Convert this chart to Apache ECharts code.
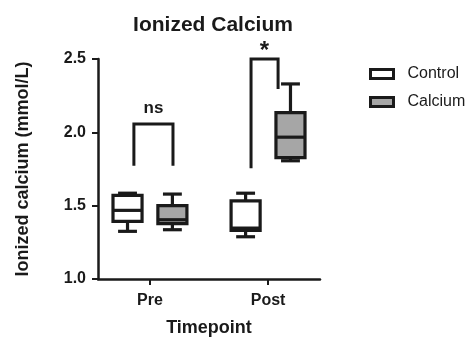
<!DOCTYPE html>
<html>
<head>
<meta charset="utf-8">
<script src="https://cdn.jsdelivr.net/npm/echarts@6/dist/echarts.min.js"></script>
<style>
  html, body { margin: 0; padding: 0; background: #fff; }
  #chart { width: 470px; height: 337px; }
</style>
</head>
<body>
<div id="chart"></div>
<script>
// timepoints on a value axis (Pre = 0, Post = 1)
const timepoints = ['Pre', 'Post']
const groupOffset = { Control: -0.19, Calcium: 0.19 }

// [min, q1, median, q3, max]
const controlBoxes = [
  [1.325, 1.393, 1.468, 1.570, 1.585],
  [1.288, 1.331, 1.347, 1.533, 1.585],
]
const calciumBoxes = [
  [1.336, 1.377, 1.404, 1.500, 1.579],
  [1.806, 1.828, 1.967, 2.135, 2.330],
]

// significance brackets: [xLeft, xRight, yLeftEnd, yRightEnd, yTop, label, labelX, labelY]
const brackets = [
  [-0.136, 0.195, 1.772, 1.772, 2.057, 'ns', 0.03, 2.165],
  [0.856, 1.085, 1.755, 2.296, 2.5, '*', 0.97, 2.555],
]

const FONT = 'Liberation Sans, Arial, sans-serif'
const INK = '#1a1a1a'

const boxRenderer = (fill, offset, boxes) => (params, api) => {
  const i = params.dataIndex
  const [mn, q1, md, q3, mx] = boxes[i]
  const x = i + offset
  const halfW = api.size([0.246, 0])[0] / 2
  const capW = halfW * 0.65
  const pMin = api.coord([x, mn])
  const pQ1 = api.coord([x, q1])
  const pMd = api.coord([x, md])
  const pQ3 = api.coord([x, q3])
  const pMax = api.coord([x, mx])
  const cx = pMd[0]
  const line = (x1, y1, x2, y2) => ({
    type: 'line',
    shape: { x1, y1, x2, y2 },
    style: { stroke: INK, lineWidth: 3.2 },
  })
  return {
    type: 'group',
    children: [
      line(cx, pMax[1], cx, pQ3[1]),
      line(cx, pQ1[1], cx, pMin[1]),
      line(cx - capW, pMax[1], cx + capW, pMax[1]),
      line(cx - capW, pMin[1], cx + capW, pMin[1]),
      {
        type: 'rect',
        shape: { x: cx - halfW, y: pQ3[1], width: halfW * 2, height: pQ1[1] - pQ3[1] },
        style: { fill, stroke: INK, lineWidth: 3.2 },
      },
      line(cx - halfW, pMd[1], cx + halfW, pMd[1]),
    ],
  }
}

const bracketRenderer = (params, api) => {
  const [xl, xr, yl, yr, yt, label, lx, ly] = brackets[params.dataIndex]
  const a = api.coord([xl, yl])
  const b = api.coord([xl, yt])
  const c = api.coord([xr, yt])
  const d = api.coord([xr, yr])
  const t = api.coord([lx, ly])
  return {
    type: 'group',
    children: [
      {
        type: 'polyline',
        shape: { points: [a, b, c, d] },
        style: { fill: 'none', stroke: INK, lineWidth: 3 },
      },
      {
        type: 'text',
        x: t[0],
        y: t[1],
        style: {
          text: label,
          fill: INK,
          font: label === '*' ? 'bold 24px ' + FONT : 'bold 17px ' + FONT,
          align: 'center',
          verticalAlign: 'middle',
        },
      },
    ],
  }
}

const chart = echarts.init(document.getElementById('chart'))

chart.setOption({
  animation: false,
  backgroundColor: '#fff',
  title: {
    text: 'Ionized Calcium',
    left: 208,
    top: 10,
    textAlign: 'center',
    textStyle: { fontFamily: FONT, fontWeight: 'bold', fontSize: 21, color: INK },
  },
  legend: {
    orient: 'vertical',
    left: 369,
    top: 66,
    padding: 0,
    itemWidth: 23,
    itemHeight: 9,
    itemGap: 12,
    icon: 'rect',
    textStyle: { fontFamily: FONT, fontSize: 16, color: INK, padding: [0, 0, 0, 9] },
    data: [
      { name: 'Control', itemStyle: { color: '#fff', borderColor: INK, borderWidth: 3 } },
      { name: 'Calcium', itemStyle: { color: '#a6a6a6', borderColor: INK, borderWidth: 3 } },
    ],
  },
  grid: { left: 98, right: 150, top: 59, bottom: 58, outerBoundsMode: 'none' },
  xAxis: {
    type: 'value',
    min: -0.44,
    max: 1.44,
    name: 'Timepoint',
    nameLocation: 'middle',
    nameGap: 40,
    nameTextStyle: { fontFamily: FONT, fontWeight: 'bold', fontSize: 18, color: INK },
    splitLine: { show: false },
    axisLine: { onZero: false, lineStyle: { color: INK, width: 2.5 } },
    axisTick: { customValues: [0, 1], length: 6, lineStyle: { color: INK, width: 2 } },
    axisLabel: {
      customValues: [0, 1],
      formatter: v => timepoints[Math.round(v)],
      fontFamily: FONT,
      fontWeight: 'bold',
      fontSize: 16,
      color: INK,
      margin: 14,
    },
  },
  yAxis: {
    type: 'value',
    min: 1.0,
    max: 2.5,
    interval: 0.5,
    name: 'Ionized calcium (mmol/L)',
    nameLocation: 'middle',
    nameGap: 66,
    nameTextStyle: { fontFamily: FONT, fontWeight: 'bold', fontSize: 18, color: INK },
    splitLine: { show: false },
    axisLine: { show: true, onZero: false, lineStyle: { color: INK, width: 2.5 } },
    axisTick: { show: true, length: 6, lineStyle: { color: INK, width: 2 } },
    axisLabel: {
      formatter: v => v.toFixed(1),
      fontFamily: FONT,
      fontWeight: 'bold',
      fontSize: 16,
      color: INK,
      margin: 12,
    },
  },
  series: [
    {
      name: 'Control',
      type: 'custom',
      clip: false,
      itemStyle: { color: '#fff' },
      data: controlBoxes.map((b, i) => [i, b[2]]),
      renderItem: boxRenderer('#fff', groupOffset.Control, controlBoxes),
    },
    {
      name: 'Calcium',
      type: 'custom',
      clip: false,
      itemStyle: { color: '#a6a6a6' },
      data: calciumBoxes.map((b, i) => [i, b[2]]),
      renderItem: boxRenderer('#a6a6a6', groupOffset.Calcium, calciumBoxes),
    },
    {
      name: 'brackets',
      type: 'custom',
      clip: false,
      silent: true,
      data: brackets.map(b => [b[0], b[4]]),
      renderItem: bracketRenderer,
    },
  ],
})
</script>
</body>
</html>
